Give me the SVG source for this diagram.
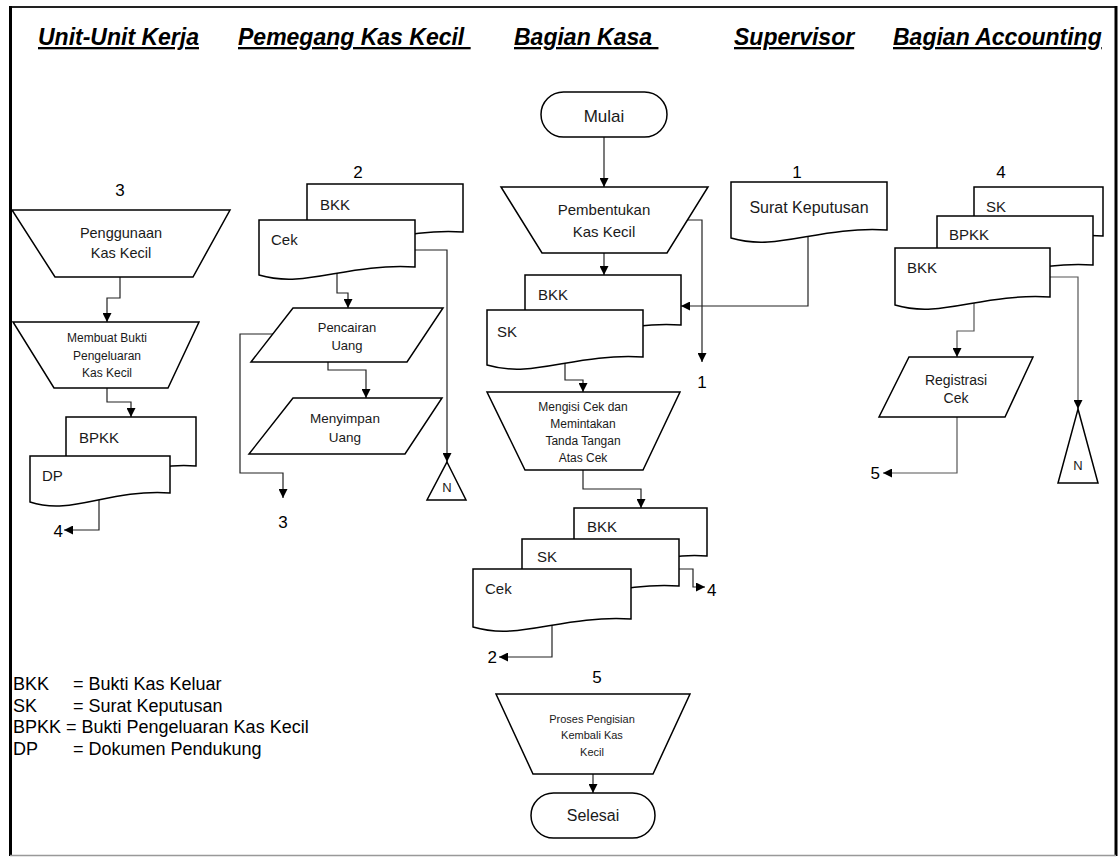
<svg xmlns="http://www.w3.org/2000/svg" width="1119" height="857" viewBox="0 0 1119 857">
<style>
.sh{fill:#fff;stroke:#000;stroke-width:1.5;stroke-linejoin:miter}
.cn{fill:none;stroke:#222;stroke-width:1.2}
.cg{fill:none;stroke:#555;stroke-width:1.2}
.t{font-family:"Liberation Sans",Arial,sans-serif;fill:#1a1a1a}
.c{text-anchor:middle}
.hd{font-family:"Liberation Sans",Arial,sans-serif;font-size:23px;font-weight:bold;font-style:italic;text-decoration:underline;fill:#000}
.lg{font-family:"Liberation Sans",Arial,sans-serif;font-size:18px;fill:#000}
.num{font-family:"Liberation Sans",Arial,sans-serif;font-size:17px;fill:#000}
.dl{font-size:15px}
</style>
<defs>
<marker id="ah" viewBox="0 0 10 10" refX="10" refY="5" markerWidth="9" markerHeight="9" markerUnits="userSpaceOnUse" orient="auto"><path d="M0,0 L10,5 L0,10 z" fill="#000"/></marker>
</defs>
<rect x="0" y="0" width="1119" height="857" fill="#fff"/>
<g id="frame">
<line x1="10" y1="7" x2="1116" y2="7" stroke="#222" stroke-width="2"/>
<line x1="10.5" y1="6" x2="10.5" y2="856" stroke="#000" stroke-width="3"/>
<line x1="1116" y1="6" x2="1116" y2="856" stroke="#000" stroke-width="3"/>
<line x1="10" y1="855.5" x2="1116" y2="855.5" stroke="#999" stroke-width="1.5"/>
</g>
<g id="headers">
<text class="hd" x="38" y="45">Unit-Unit Kerja</text>
<text class="hd" x="238" y="45" xml:space="preserve">Pemegang Kas Kecil </text>
<text class="hd" x="514" y="45" xml:space="preserve">Bagian Kasa </text>
<text class="hd" x="734" y="45">Supervisor</text>
<text class="hd" x="893" y="45">Bagian Accounting</text>
</g>
<g id="legend">
<text class="lg" x="13" y="690">BKK</text><text class="lg" x="73" y="690">= Bukti Kas Keluar</text>
<text class="lg" x="13" y="712">SK</text><text class="lg" x="73" y="712">= Surat Keputusan</text>
<text class="lg" x="13" y="733">BPKK</text><text class="lg" x="66" y="733">= Bukti Pengeluaran Kas Kecil</text>
<text class="lg" x="13" y="755">DP</text><text class="lg" x="73" y="755">= Dokumen Pendukung</text>
</g>
<g id="connectors">
<path class="cn" d="M120,277 V298 H107 V322" marker-end="url(#ah)"/>
<path class="cn" d="M107,388 V402 H131 V417" marker-end="url(#ah)"/>
<path class="cn" d="M99,500 V530 H64" marker-end="url(#ah)"/>
<path class="cn" d="M405,250 H447 V462" marker-end="url(#ah)"/>
<path class="cn" d="M337,268 V293 H348 V308" marker-end="url(#ah)"/>
<path class="cn" d="M328,362 V370 H366 V398" marker-end="url(#ah)"/>
<path class="cn" d="M275,334 H240 V473 H283 V498" marker-end="url(#ah)"/>
<path class="cn" d="M604,137 V187" marker-end="url(#ah)"/>
<path class="cn" d="M680,220 H702 V362" marker-end="url(#ah)"/>
<path class="cn" d="M604,253 V275" marker-end="url(#ah)"/>
<path class="cn" d="M808,232 V306 H681" marker-end="url(#ah)"/>
<path class="cn" d="M565,360 V380 H583 V392" marker-end="url(#ah)"/>
<path class="cn" d="M583,470 V489 H641 V508" marker-end="url(#ah)"/>
<path class="cn" d="M670,569 H693 V587 H705" marker-end="url(#ah)"/>
<path class="cn" d="M552,620 V657 H499" marker-end="url(#ah)"/>
<path class="cn" d="M593,774 V793" marker-end="url(#ah)"/>
<path class="cg" d="M1040,277 H1078 V409" marker-end="url(#ah)"/>
<path class="cg" d="M974,300 V331 H957 V357" marker-end="url(#ah)"/>
<path class="cg" d="M957,417 V473 H883" marker-end="url(#ah)"/>
</g>
<g id="unit-penggunaan">
<text class="num c" x="120" y="196">3</text>
<polygon class="sh" points="12,210 230,210 193,277 55,277"/>
<text class="t c" x="121" y="238" font-size="14.5">Penggunaan</text>
<text class="t c" x="121" y="258" font-size="14.5">Kas Kecil</text>
</g>
<g id="unit-membuat-bukti">
<polygon class="sh" points="13,322 199,322 168,388 54,388"/>
<text class="t c" x="107" y="342" font-size="12">Membuat Bukti</text>
<text class="t c" x="107" y="360" font-size="12">Pengeluaran</text>
<text class="t c" x="107" y="377" font-size="12">Kas Kecil</text>
</g>
<g id="unit-docs">
<path class="sh" d="M66,417 H196 V466 C137.5,462 105,488 66,474 Z"/>
<text class="t dl" x="79" y="443">BPKK</text>
<path class="sh" d="M30,456 H170 V493 C107,489 72,516 30,502 Z"/>
<text class="t dl" x="42" y="481">DP</text>
<text class="num" x="63" y="537" text-anchor="end">4</text>
</g>
<g id="pkk-docs">
<text class="num c" x="358" y="178">2</text>
<path class="sh" d="M307,184 H463 V232 C392.8,228 353.8,254 307,240 Z"/>
<text class="t dl" x="320" y="210">BKK</text>
<path class="sh" d="M259,220 H415 V267 C344.8,263 305.8,289 259,275 Z"/>
<text class="t dl" x="271" y="245">Cek</text>
</g>
<g id="pkk-n">
<polygon class="sh" points="447,462 466,500 427,500"/>
<text class="t c" x="447" y="492" font-size="13">N</text>
</g>
<g id="pkk-pencairan">
<polygon class="sh" points="293,308 443,308 407,362 251,362"/>
<text class="t c" x="347" y="332" font-size="13">Pencairan</text>
<text class="t c" x="347" y="350" font-size="13">Uang</text>
</g>
<g id="pkk-menyimpan">
<polygon class="sh" points="293,398 442,398 405,454 249,454"/>
<text class="t c" x="345" y="423" font-size="13.5">Menyimpan</text>
<text class="t c" x="345" y="442" font-size="13.5">Uang</text>
<text class="num c" x="283" y="528">3</text>
</g>
<g id="kasa-mulai">
<rect class="sh" x="541" y="92" width="126" height="45" rx="22.5"/>
<text class="t c" x="604" y="122" font-size="17">Mulai</text>
</g>
<g id="kasa-pembentukan">
<polygon class="sh" points="501,187 708,187 667,253 542,253"/>
<text class="t c" x="604" y="215" font-size="15">Pembentukan</text>
<text class="t c" x="604" y="237" font-size="15">Kas Kecil</text>
<text class="num c" x="702" y="388">1</text>
</g>
<g id="kasa-docs1">
<path class="sh" d="M525,275 H681 V325 C610.8,321 571.8,347 525,333 Z"/>
<text class="t dl" x="538" y="300">BKK</text>
<path class="sh" d="M487,310 H643 V357 C572.8,353 533.8,379 487,365 Z"/>
<text class="t dl" x="497" y="337">SK</text>
</g>
<g id="sup-surat">
<text class="num c" x="797" y="178">1</text>
<path class="sh" d="M731,182 H887 V230 C816.8,226 777.8,252 731,238 Z"/>
<text class="t c" x="809" y="213" font-size="16">Surat Keputusan</text>
</g>
<g id="kasa-mengisi">
<polygon class="sh" points="487,392 680,392 643,470 525,470"/>
<text class="t c" x="583" y="411" font-size="12">Mengisi Cek dan</text>
<text class="t c" x="583" y="428" font-size="12">Memintakan</text>
<text class="t c" x="583" y="445" font-size="12">Tanda Tangan</text>
<text class="t c" x="583" y="462" font-size="12">Atas Cek</text>
</g>
<g id="kasa-docs2">
<path class="sh" d="M574,508 H707 V556 C647.15,552 613.9,578 574,564 Z"/>
<text class="t dl" x="587" y="532">BKK</text>
<path class="sh" d="M522,539 H679 V586 C608.35,582 569.1,608 522,594 Z"/>
<text class="t dl" x="537" y="562">SK</text>
<path class="sh" d="M473,569 H631 V619 C559.9,615 520.4,641 473,627 Z"/>
<text class="t dl" x="485" y="594">Cek</text>
<text class="num" x="707" y="596">4</text>
<text class="num" x="497" y="663" text-anchor="end">2</text>
</g>
<g id="kasa-proses">
<text class="num c" x="597" y="683">5</text>
<polygon class="sh" points="496,694 690,694 653,774 533,774"/>
<text class="t c" x="592" y="723" font-size="11">Proses Pengisian</text>
<text class="t c" x="592" y="739" font-size="11">Kembali Kas</text>
<text class="t c" x="592" y="756" font-size="11">Kecil</text>
</g>
<g id="kasa-selesai">
<rect class="sh" x="531" y="793" width="124" height="45" rx="22.5"/>
<text class="t c" x="593" y="821" font-size="16">Selesai</text>
</g>
<g id="acc-docs">
<text class="num c" x="1001" y="178">4</text>
<path class="sh" d="M974,187 H1103 V236 C1044.95,232 1012.7,258 974,244 Z"/>
<text class="t dl" x="986" y="212">SK</text>
<path class="sh" d="M937,216 H1093 V265 C1022.8,261 983.8,287 937,273 Z"/>
<text class="t dl" x="949" y="240">BPKK</text>
<path class="sh" d="M895,248 H1050 V297 C980.25,293 941.5,319 895,305 Z"/>
<text class="t dl" x="907" y="273">BKK</text>
</g>
<g id="acc-registrasi">
<polygon class="sh" points="909,357 1033,357 1005,417 879,417"/>
<text class="t c" x="956" y="385" font-size="14">Registrasi</text>
<text class="t c" x="956" y="403" font-size="14">Cek</text>
<text class="num" x="880" y="479" text-anchor="end">5</text>
</g>
<g id="acc-n">
<polygon class="sh" points="1078,409 1098,483 1058,483"/>
<text class="t c" x="1078" y="470" font-size="13">N</text>
</g>
</svg>
